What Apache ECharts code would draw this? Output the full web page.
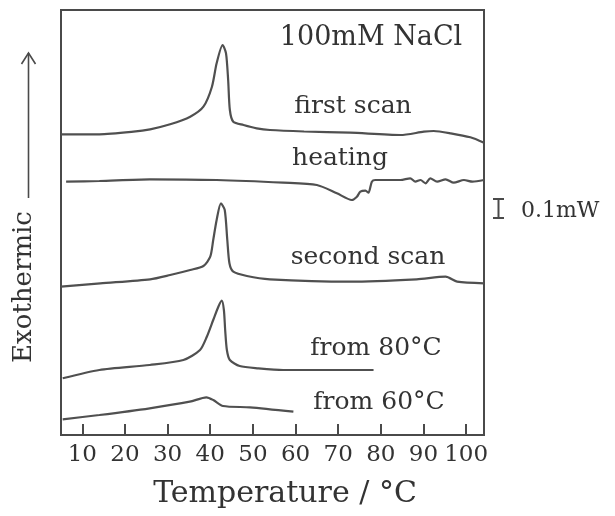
<!DOCTYPE html>
<html>
<head>
    <meta charset="utf-8"/>
    <title>DSC 100mM NaCl</title>
    <style>
        html, body {margin: 0; padding: 0; background: #fff;}
    </style>
</head>
<body>
<div id="main" style="width: 615px;height:516px;"></div>
</body>
<script src="https://cdn.jsdelivr.net/npm/echarts@6/dist/echarts.min.js"></script>
<script>

    // temperature ticks
    var tempTicks = [10, 20, 30, 40, 50, 60, 70, 80, 90, 100];

    // first scan
    var firstT = [5, 14, 22, 25.9, 30.6, 35.3, 38.4, 40.4, 41.5, 42.9, 43.7, 44.2, 44.6, 45.4, 47.8, 50.9, 54, 62, 72.8, 84.6, 90.1, 92.4, 96.4, 101, 104.2];
    var firstY = [300.7, 300.7, 303.3, 305.7, 310.7, 318.3, 328.3, 348.3, 371.7, 390, 381.7, 355, 325, 313.3, 310, 306.7, 305, 303.5, 302.3, 300, 303.3, 304, 301.7, 297.7, 292.3];

    // heating
    var heatT = [6.2, 14, 25.8, 41.5, 57.1, 65, 69.7, 73.2, 74.4, 75.2, 76.4, 77.1, 77.9, 78.7, 84.6, 86.9, 88.1, 89.3, 90.5, 91.6, 93.2, 95.2, 97.1, 99.5, 101.5, 104.2];
    var heatY = [253.3, 254, 255.7, 255, 252.3, 250, 241.7, 235, 238.3, 243.3, 244.3, 242.3, 253.3, 255, 255, 256.7, 253.3, 255, 251.7, 256.7, 253.3, 255.7, 252.3, 255, 253.3, 255];

    // second scan
    var secondT = [5, 14.2, 25.9, 30.6, 35.3, 38.4, 40, 40.7, 41.5, 42.5, 43.4, 44, 44.5, 45.4, 48.6, 54, 72.8, 88.4, 95.2, 97.9, 104.2];
    var secondY = [148.3, 151.7, 155.7, 160, 165, 169, 178.3, 195, 215, 231.7, 225, 195, 171.7, 163.3, 159, 155.7, 153.3, 155.7, 158.3, 153.3, 151.7];

    // from 80 C
    var from80T = [5.4, 14, 25.8, 33.7, 37.6, 39.2, 40.7, 41.9, 42.7, 43.2, 43.5, 43.9, 44.6, 46.9, 51.3, 57.1, 78.3];
    var from80Y = [56.7, 65, 70, 75, 85, 98.3, 115, 128.3, 134.3, 125, 105, 85, 75, 69, 66.7, 65, 65];

    // from 60 C
    var from60T = [5.4, 14, 25.8, 35.2, 39.1, 40.7, 43, 49.3, 59.5];
    var from60Y = [15.7, 20, 26.7, 33.3, 37.7, 35, 29, 27.7, 23.3];

    function zip(xs, ys) {
        return xs.map(function (x, i) { return [x, ys[i]]; });
    }

    var ink = '#4a4a4a';
    var textInk = '#333';
    var serif = 'DejaVu Serif';

    function curve(name, xs, ys) {
        return {
            name: name,
            type: 'line',
            data: zip(xs, ys),
            symbol: 'none',
            smooth: 0.25,
            lineStyle: {color: '#505050', width: 2.2},
            silent: true
        };
    }

    function label(text, x, y, size) {
        return {
            type: 'text', x: x, y: y,
            style: {
                text: text, align: 'center', verticalAlign: 'middle',
                font: (size || 25) + 'px "' + serif + '"', fill: textInk
            }
        };
    }

    var myChart = echarts.init(document.getElementById('main'));

    var option = {
        animation: false,
        backgroundColor: '#fff',
        grid: {
            left: 61, top: 10, right: 131, bottom: 81,
            show: true, borderColor: ink, borderWidth: 2
        },
        xAxis: {
            type: 'value',
            min: 5,
            max: 104.2,
            name: 'Temperature / °C',
            nameLocation: 'middle',
            nameGap: 44,
            nameTextStyle: {fontFamily: serif, fontSize: 30, color: textInk, padding: [0, 0, 0, 25]},
            axisLine: {lineStyle: {color: ink, width: 2}},
            axisTick: {inside: true, length: 11, customValues: tempTicks, lineStyle: {color: ink, width: 2}},
            axisLabel: {customValues: tempTicks, margin: 9, fontFamily: serif, fontSize: 23, color: textInk},
            splitLine: {show: false}
        },
        yAxis: {
            type: 'value',
            min: 0,
            max: 425,
            axisLine: {show: true, lineStyle: {color: ink, width: 2}},
            axisTick: {show: false},
            axisLabel: {show: false},
            splitLine: {show: false}
        },
        series: [
            curve('first scan', firstT, firstY),
            curve('heating', heatT, heatY),
            curve('second scan', secondT, secondY),
            curve('from 80°C', from80T, from80Y),
            curve('from 60°C', from60T, from60Y)
        ],
        graphic: [
            label('100mM NaCl', 371, 38, 27),
            label('first scan', 353, 106),
            label('heating', 340, 158),
            label('second scan', 368, 257),
            label('from 80°C', 376, 348),
            label('from 60°C', 379, 402),
            {
                type: 'text', x: 521, y: 211,
                style: {text: '0.1mW', align: 'left', verticalAlign: 'middle', font: '22px "' + serif + '"', fill: textInk}
            },
            {
                type: 'polyline',
                shape: {points: [[493, 199], [504, 199]]},
                style: {stroke: ink, lineWidth: 2}
            },
            {
                type: 'polyline',
                shape: {points: [[498.5, 199], [498.5, 218]]},
                style: {stroke: ink, lineWidth: 2}
            },
            {
                type: 'polyline',
                shape: {points: [[493, 218], [504, 218]]},
                style: {stroke: ink, lineWidth: 2}
            },
            {
                type: 'text', x: 24, y: 287, rotation: Math.PI / 2,
                style: {text: 'Exothermic', align: 'center', verticalAlign: 'middle', font: '26px "' + serif + '"', fill: textInk}
            },
            {
                type: 'polyline',
                shape: {points: [[28.5, 198], [28.5, 53]]},
                style: {stroke: ink, lineWidth: 1.6}
            },
            {
                type: 'polyline',
                shape: {points: [[21.5, 64], [28.5, 53], [35.5, 64]]},
                style: {stroke: ink, lineWidth: 1.6, fill: null}
            }
        ]
    };

    myChart.setOption(option);

</script>
</html>
